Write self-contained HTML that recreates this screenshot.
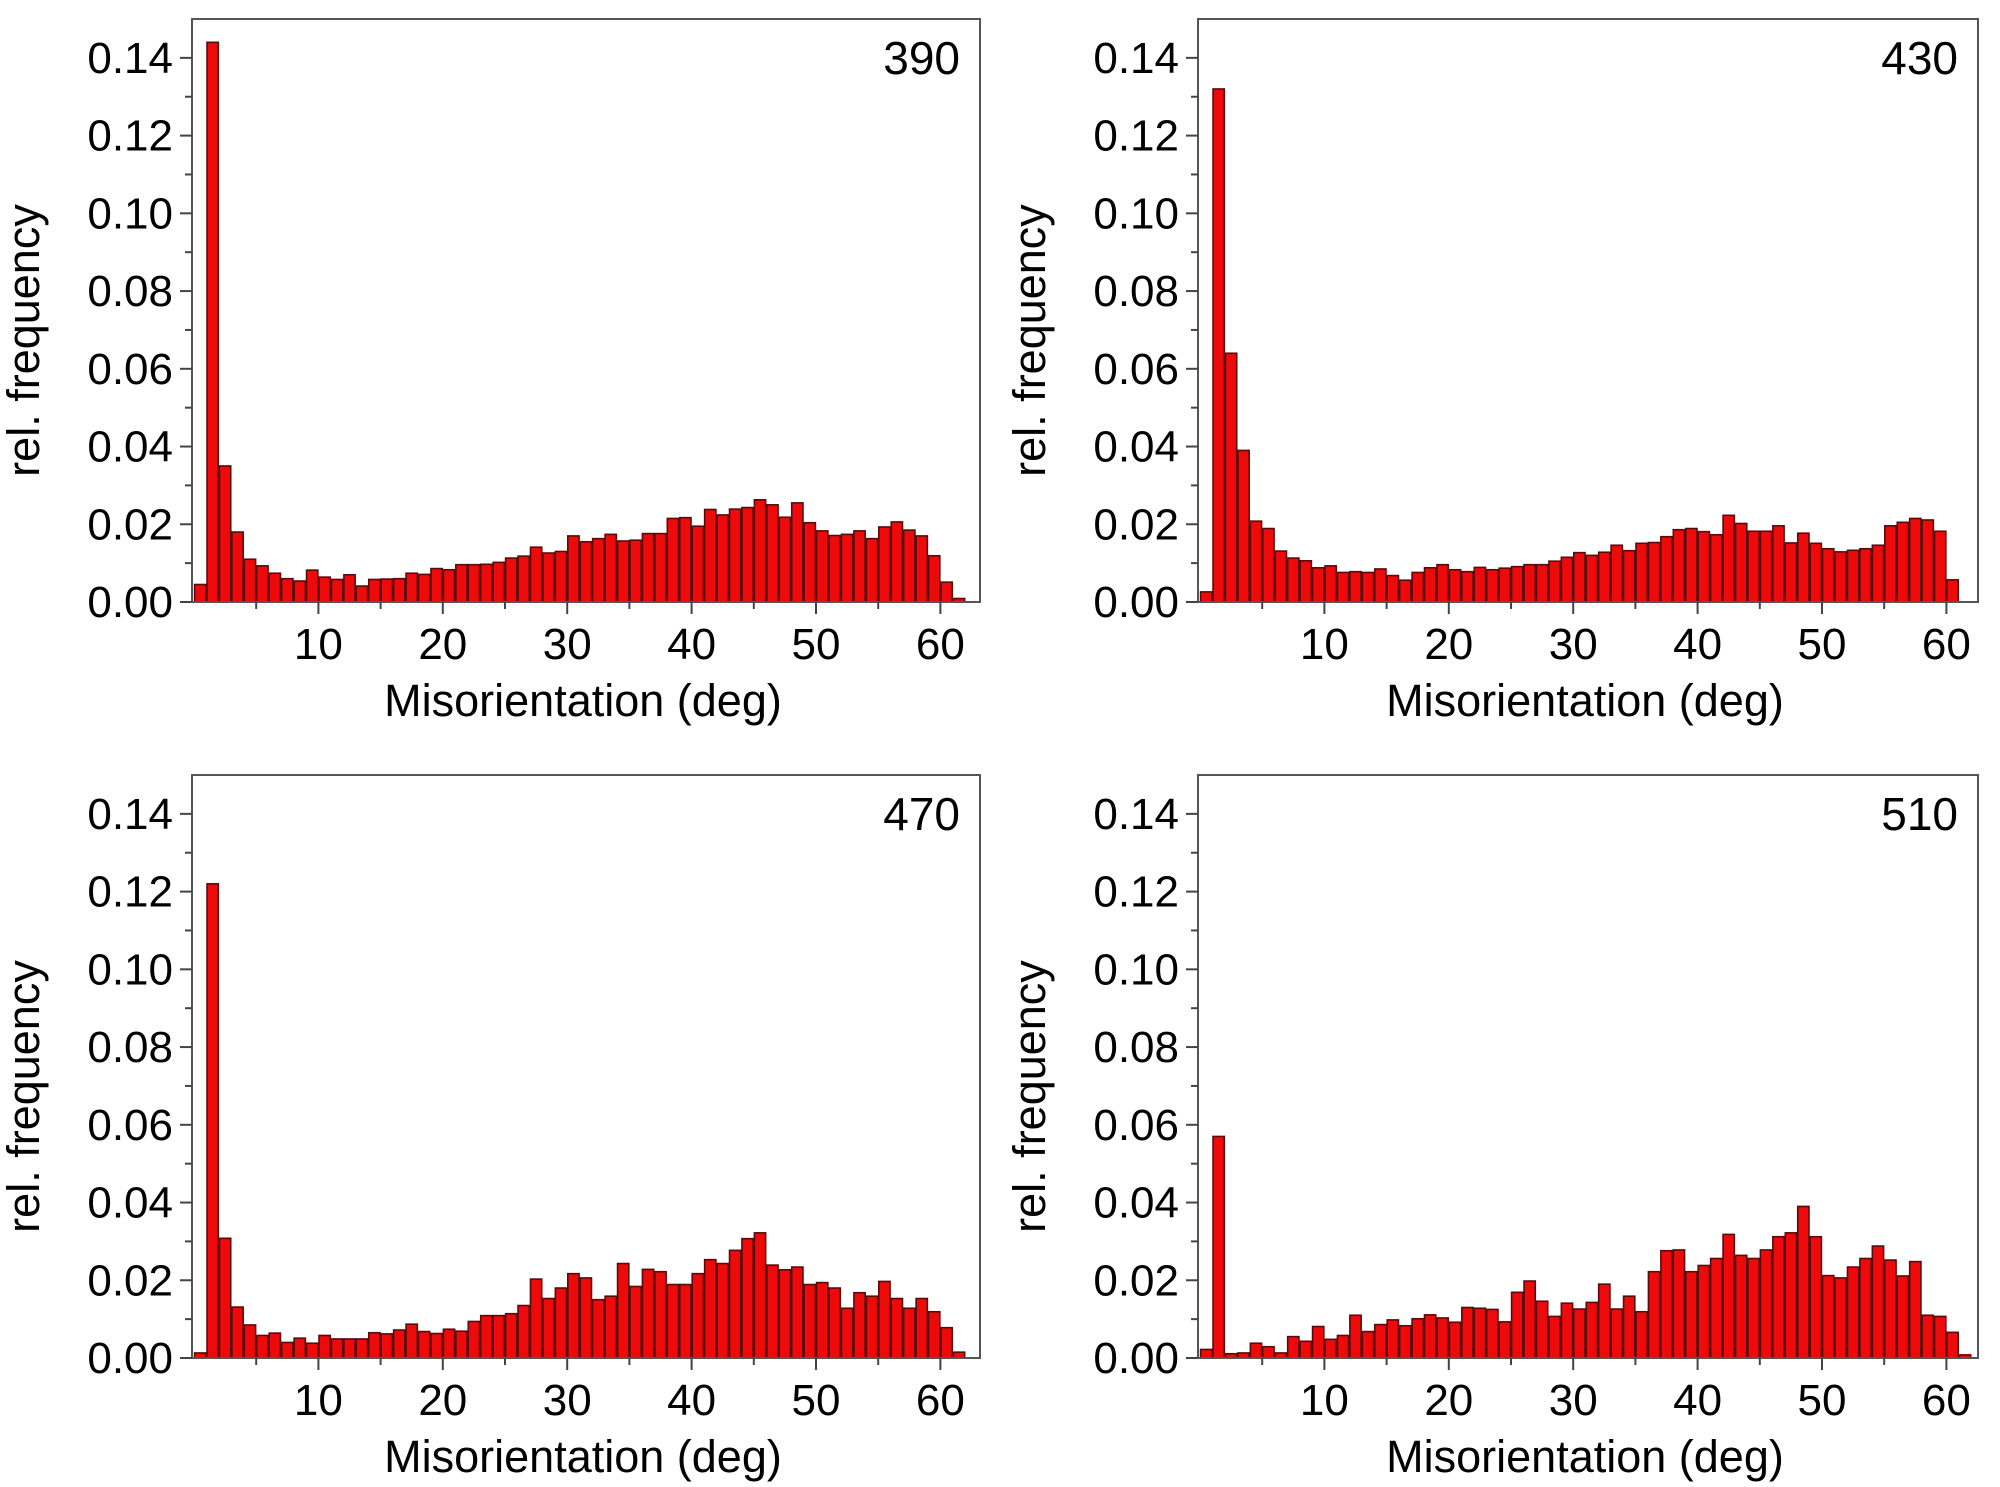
<!DOCTYPE html>
<html><head><meta charset="utf-8"><style>
html,body{margin:0;padding:0;background:#fff;}
svg{display:block;font-family:"Liberation Sans",Arial,sans-serif;}
</style></head><body>
<svg id="chart" width="2000" height="1487" viewBox="0 0 2000 1487" xmlns="http://www.w3.org/2000/svg"></svg>
<script>
const panelLabels = ["390","430","470","510"];
const yTicks = [0,0.02,0.04,0.06,0.08,0.10,0.12,0.14];
const yTickLabels = ["0.00","0.02","0.04","0.06","0.08","0.10","0.12","0.14"];
const xTicks = [10,20,30,40,50,60];
const values390 = [0.0045,0.144,0.035,0.018,0.011,0.0093,0.0074,0.006,0.0054,0.0082,0.0064,0.0058,0.007,0.0041,0.0058,0.0059,0.006,0.0074,0.0071,0.0086,0.0083,0.0096,0.0096,0.0097,0.0102,0.0113,0.0118,0.0141,0.0126,0.013,0.017,0.0155,0.0163,0.0174,0.0157,0.0159,0.0176,0.0176,0.0215,0.0217,0.0195,0.0238,0.0224,0.0239,0.0243,0.0263,0.025,0.0218,0.0255,0.0204,0.0183,0.0171,0.0174,0.0183,0.0163,0.0193,0.0206,0.0185,0.017,0.0119,0.0051,0.0009];
const values430 = [0.0026,0.132,0.064,0.039,0.0208,0.0189,0.0131,0.0113,0.0106,0.0088,0.0093,0.0076,0.0078,0.0076,0.0085,0.0068,0.0056,0.0076,0.0088,0.0096,0.0083,0.0078,0.0089,0.0083,0.0087,0.0091,0.0096,0.0096,0.0105,0.0115,0.0127,0.012,0.0128,0.0146,0.0132,0.0151,0.0153,0.0168,0.0186,0.0189,0.0181,0.0173,0.0223,0.0202,0.0182,0.0182,0.0196,0.0152,0.0177,0.0151,0.0137,0.0129,0.0133,0.0137,0.0146,0.0196,0.0205,0.0215,0.0211,0.0182,0.0057];
const values470 = [0.0013,0.122,0.0308,0.0131,0.0085,0.0058,0.0064,0.004,0.0051,0.0038,0.0058,0.0049,0.0049,0.0049,0.0065,0.0062,0.0072,0.0087,0.0068,0.0063,0.0074,0.0069,0.0094,0.0109,0.0109,0.0114,0.0135,0.0203,0.0153,0.018,0.0217,0.0206,0.015,0.0159,0.0243,0.0184,0.0228,0.0222,0.0189,0.0189,0.0217,0.0253,0.0243,0.0277,0.0307,0.0322,0.0239,0.0227,0.0234,0.0189,0.0194,0.018,0.0128,0.0168,0.0159,0.0197,0.0153,0.0128,0.0153,0.0119,0.0078,0.0015];
const values510 = [0.0022,0.057,0.0011,0.0013,0.0038,0.0029,0.0013,0.0055,0.0043,0.0081,0.0048,0.0058,0.011,0.0068,0.0086,0.0098,0.0083,0.0101,0.0111,0.0103,0.0092,0.013,0.0128,0.0125,0.0093,0.0169,0.0198,0.0146,0.0107,0.0141,0.0126,0.0143,0.019,0.0126,0.0159,0.0119,0.0222,0.0276,0.0278,0.0222,0.0238,0.0256,0.0318,0.0264,0.0256,0.0278,0.0312,0.0322,0.039,0.0312,0.0212,0.0206,0.0234,0.0256,0.0288,0.0252,0.0211,0.0248,0.011,0.0107,0.0066,0.0008];
const allValues = [values390, values430, values470, values510];

const NS = "http://www.w3.org/2000/svg";
const svg = document.getElementById("chart");
function mk(tag, attrs, parent){ const e=document.createElementNS(NS,tag); for(const k in attrs) e.setAttribute(k,attrs[k]); parent.appendChild(e); return e; }

const boxes = [
  {l:192,r:980,t:19,b:602},
  {l:1198,r:1978,t:19,b:602},
  {l:192,r:980,t:775,b:1358},
  {l:1198,r:1978,t:775,b:1358}
];
const YMAX = 0.150, DEG = 12.44;

boxes.forEach((bx,pi)=>{
  const g = mk("g",{},svg);
  
  
  const x0 = bx.l + 2;
  const xs = d => x0 + d*DEG;
  const ys = v => bx.b - v/YMAX*(bx.b-bx.t);
  const bars = mk("g",{},g);
  
  
  allValues[pi].forEach((v,i)=>{
    const r = mk("rect",{x:xs(i)+0.6,y:ys(v),width:DEG-1.2,height:bx.b-ys(v),fill:"#ee0a0a",stroke:"#5a0a0a","stroke-width":1.6},bars);
    
    
  });
  const fr = mk("rect",{x:bx.l,y:bx.t,width:bx.r-bx.l,height:bx.b-bx.t,fill:"none",stroke:"#555","stroke-width":2},g);
  
  
  for(let k=0;k<=14;k++){
    const v=k*0.01, y=ys(v), major=k%2===0;
    mk("line",{x1:bx.l,x2:bx.l-(major?12:7),y1:y,y2:y,stroke:"#444","stroke-width":2},g);
  }
  yTicks.forEach((v,i)=>{
    const t = mk("text",{x:bx.l-19,y:ys(v)+15,"text-anchor":"end","font-size":44,fill:"#000"},g);
    t.textContent = yTickLabels[i];
    
    
  });
  for(let d=5; d<=60; d+=5){
    const major=d%10===0;
    mk("line",{x1:xs(d),x2:xs(d),y1:bx.b,y2:bx.b+(major?12:7),stroke:"#444","stroke-width":2},g);
  }
  xTicks.forEach(d=>{
    const t = mk("text",{x:xs(d),y:bx.b+57,"text-anchor":"middle","font-size":44,fill:"#000"},g);
    t.textContent = d;
    
    
  });
  const xt = mk("text",{x:(bx.l+bx.r)/2 - 3,y:bx.b+114,"text-anchor":"middle","font-size":45,fill:"#000"},g);
  xt.textContent = "Misorientation (deg)";
  
  
  const yx = bx.l - 153, yy = (bx.t+bx.b)/2 + 30;
  const yt = mk("text",{x:yx,y:yy,"text-anchor":"middle","font-size":45,fill:"#000",transform:`rotate(-90 ${yx} ${yy})`},g);
  yt.textContent = "rel. frequency";
  
  
  const pl = mk("text",{x:bx.r-20,y:bx.t+55,"text-anchor":"end","font-size":46,fill:"#000"},g);
  pl.textContent = panelLabels[pi];
  
  
});
</script>
</body></html>
